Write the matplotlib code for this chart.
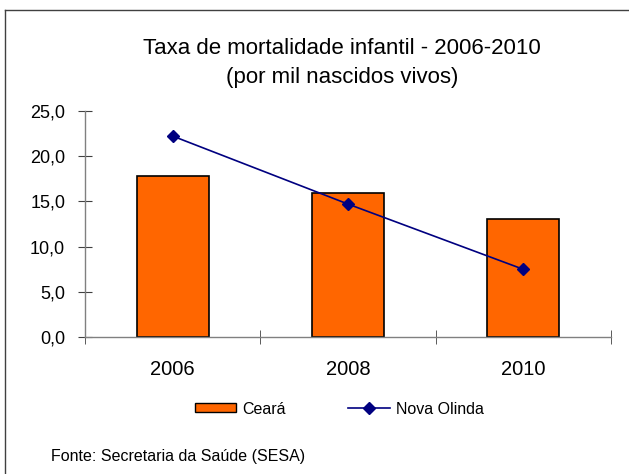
import numpy as np
import matplotlib
matplotlib.use("Agg")
import matplotlib.pyplot as plt
from matplotlib.lines import Line2D

plt.rcParams['font.family'] = ['Liberation Sans', 'DejaVu Sans']

anos = ['2006', '2008', '2010']
ceara = [17.8, 15.9, 13.1]
nova_olinda = [22.2, 14.7, 7.5]
y_ticks = [0, 5, 10, 15, 20, 25]

fig = plt.figure(figsize=(6.29, 4.74), dpi=100)
ax = fig.add_axes([85 / 629, 1 - 337.3 / 474, 526 / 629, 226.6 / 474])

x = np.arange(len(anos))
ax.bar(x, ceara, width=0.41, color='#FF6600', edgecolor='black', linewidth=1.2,
       label='Ceará', zorder=2)
ax.plot(x, nova_olinda, color='#000080', linewidth=1.2, marker='D', markersize=6,
        label='Nova Olinda', zorder=3)

ax.set_xlim(-0.5, 2.5)
ax.set_ylim(0, 25)
ax.set_xticks(x)
ax.set_xticklabels(anos, fontsize=14.5)
ax.set_xticks([-0.5, 0.5, 1.5, 2.5], minor=True)
ax.set_yticks(y_ticks)
ax.set_yticklabels([f'{v:.1f}'.replace('.', ',') for v in y_ticks], fontsize=13)

for s in ['top', 'right']:
    ax.spines[s].set_visible(False)
for s in ['left', 'bottom']:
    ax.spines[s].set_color('#808080')
    ax.spines[s].set_linewidth(1.0)
ax.tick_params(axis='y', direction='inout', length=9.5, color='#404040', pad=9.5)
ax.tick_params(axis='x', which='major', length=0, pad=16)
ax.tick_params(axis='x', which='minor', direction='inout', length=9.5, color='#404040')

fig.text(342 / 629, 1 - 49 / 474, 'Taxa de mortalidade infantil - 2006-2010',
         ha='center', va='center', fontsize=16)
fig.text(342 / 629, 1 - 78 / 474, '(por mil nascidos vivos)',
         ha='center', va='center', fontsize=16)

handles = [plt.Rectangle((0, 0), 1, 1, facecolor='#FF6600', edgecolor='black', linewidth=1),
           Line2D([], [], color='#000080', linewidth=1.2, marker='D', markersize=6)]
fig.legend(handles, ['Ceará', 'Nova Olinda'], loc='center',
           bbox_to_anchor=(339.5 / 629, 1 - 409 / 474), ncol=2, frameon=False,
           fontsize=11.5, handlelength=2.6, handleheight=0.5, handletextpad=0.4,
           columnspacing=3.9)

fig.text(51 / 629, 1 - 457 / 474, 'Fonte: Secretaria da Saúde (SESA)',
         ha='left', va='center', fontsize=11.5)

# moldura
fig.add_artist(Line2D([5 / 629, 1], [1 - 10 / 474, 1 - 10 / 474], color='#404040', linewidth=1))
fig.add_artist(Line2D([5 / 629, 5 / 629], [0, 1 - 10 / 474], color='#404040', linewidth=1))

fig.savefig('out.png', dpi=100)
